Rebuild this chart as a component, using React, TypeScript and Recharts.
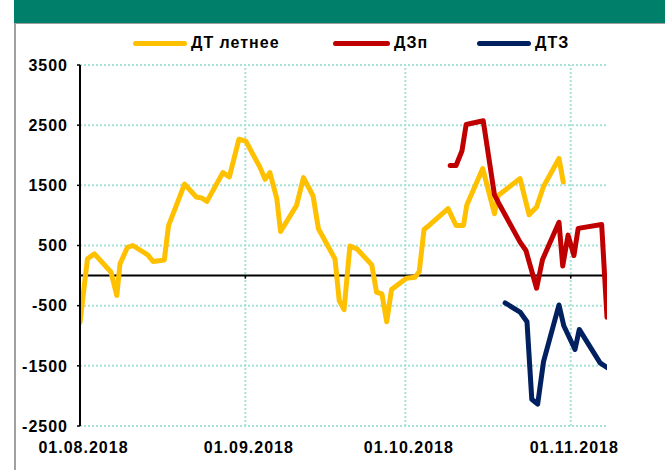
import React from 'react';
import { LineChart, Line, XAxis, YAxis, CartesianGrid, ReferenceLine, Legend } from 'recharts';

// X axis: days since 01.08.2018
const xTickDays = [0, 31, 61, 92];
const xTickLabels = ['01.08.2018', '01.09.2018', '01.10.2018', '01.11.2018'];
const xDomainMax = 98.8;
const yTicks = [-2500, -1500, -500, 500, 1500, 2500, 3500];

const seriesNames = ['ДТ летнее', 'ДЗп', 'ДТЗ'];
const seriesColors = ['#FFC000', '#C00000', '#002060'];

const summerDays = [0, 1.4, 2.7, 5.8, 6.9, 7.5, 8.9, 9.9, 12.7, 13.7, 15.8, 16.6, 19.6, 21.8, 22.8, 23.8, 26.8, 28.0, 29.8, 31.1, 33.7, 34.7, 35.6, 36.9, 37.6, 40.6, 41.9, 43.7, 44.7, 47.8, 48.6, 49.5, 50.6, 51.9, 54.7, 55.6, 56.6, 57.5, 58.4, 61.2, 62.8, 63.6, 64.5, 65.6, 69.0, 70.5, 71.9, 72.5, 75.5, 77.7, 78.4, 82.5, 84.2, 85.6, 86.9, 89.8, 90.6];
const summerValues = [-780, 280, 360, 60, -330, 195, 470, 500, 345, 235, 260, 830, 1520, 1307, 1290, 1233, 1712, 1640, 2267, 2233, 1807, 1600, 1712, 1278, 733, 1167, 1628, 1323, 778, 278, -417, -567, 490, 445, 178, -277, -305, -767, -233, -43, -27, 67, 767, 845, 1112, 833, 833, 1167, 1778, 1028, 1330, 1612, 1010, 1140, 1480, 1945, 1556];

const dzpDays = [69.4, 70.5, 71.6, 72.4, 75.6, 77.7, 78.4, 82.5, 83.6, 85.6, 86.7, 89.8, 90.5, 91.5, 92.6, 93.4, 97.8, 98.8];
const dzpValues = [1830, 1830, 2070, 2512, 2573, 1340, 1220, 556, 417, -210, 265, 885, 160, 672, 333, 785, 848, -693];

const dtzDays = [79.7, 82.5, 83.8, 84.7, 85.8, 86.9, 89.8, 90.7, 92.8, 93.6, 97.5, 98.8];
const dtzValues = [-455, -606, -767, -2055, -2138, -1430, -488, -833, -1228, -895, -1450, -1528];

const toPoints = (days: number[], values: number[]) => days.map((d, i) => ({ d, v: values[i] }));
const seriesData = [toPoints(summerDays, summerValues), toPoints(dzpDays, dzpValues), toPoints(dtzDays, dtzValues)];

const FONT = '"Liberation Sans", Arial, Helvetica, sans-serif';
const tickStyle = { fill: '#000', fontSize: 16, fontWeight: 'bold' as const, fontFamily: FONT, letterSpacing: 1 };
const GRID = '#a6e3d6';

const legendLineLeft = [133, 333, 477];
const legendLineWidth = [54, 57, 54];

function LegendContent() {
  return (
    <div style={{ position: 'relative', width: 665, height: 60 }}>
      {seriesNames.map((name, i) => (
        <React.Fragment key={name}>
          <div
            style={{
              position: 'absolute',
              left: legendLineLeft[i],
              top: 41,
              width: legendLineWidth[i],
              height: 5,
              borderRadius: 3,
              background: seriesColors[i],
            }}
          />
          <div
            style={{
              position: 'absolute',
              left: legendLineLeft[i] + legendLineWidth[i] + 4,
              top: 34,
              fontFamily: FONT,
              fontWeight: 'bold',
              fontSize: 16,
              letterSpacing: 1,
              lineHeight: '18px',
              color: '#000',
              whiteSpace: 'nowrap',
            }}
          >
            {name}
          </div>
        </React.Fragment>
      ))}
    </div>
  );
}

export default function App() {
  return (
    <div style={{ position: 'absolute', left: 0, top: 0, width: 665, height: 470, background: '#fff', fontFamily: FONT }}>
      <div style={{ position: 'absolute', left: 14, top: 0, width: 651, height: 23, background: '#00806a' }} />
      <div style={{ position: 'absolute', left: 14, top: 23, width: 651, height: 1, background: '#a0a0a0' }} />
      <div style={{ position: 'absolute', left: 14, top: 23, width: 2, height: 447, background: '#a0a0a0' }} />
      <div style={{ position: 'absolute', left: 0, top: 0 }}>
        <LineChart width={665} height={470} margin={{ top: 65, right: 58, left: 0, bottom: 14 }}>
          <CartesianGrid stroke={GRID} strokeWidth={2} strokeDasharray="2 2" vertical={false} />
          {xTickDays.slice(1).map((d) => (
            <ReferenceLine key={'g' + d} x={d} stroke={GRID} strokeWidth={2} strokeDasharray="2 2" />
          ))}
          <XAxis
            type="number"
            dataKey="d"
            domain={[0, xDomainMax]}
            allowDataOverflow
            ticks={xTickDays}
            tickFormatter={(d: number) => xTickLabels[xTickDays.indexOf(d)] ?? ''}
            axisLine={false}
            tickLine={false}
            tickSize={0}
            tickMargin={16}
            height={30}
            tick={{ ...tickStyle, dx: 3.5 }}
            interval={0}
          />
          <YAxis
            type="number"
            dataKey="v"
            domain={[-2500, 3500]}
            ticks={yTicks}
            interval={0}
            width={80}
            axisLine={{ stroke: '#000', strokeWidth: 2 }}
            tickLine={{ stroke: '#000', strokeWidth: 1.5 }}
            tickSize={3}
            tickMargin={9}
            tick={tickStyle}
          />
          <ReferenceLine y={0} stroke="#000" strokeWidth={2} />
          {xTickDays.slice(1).map((d) => (
            <ReferenceLine
              key={d}
              segment={[{ x: d, y: 0 }, { x: d, y: -50 }]}
              stroke="#000"
              strokeWidth={1.5}
            />
          ))}
          <Legend
            layout="horizontal"
            verticalAlign="middle"
            align="center"
            content={() => <LegendContent />}
            wrapperStyle={{ position: 'absolute', left: 0, top: 0, width: 665, height: 60 }}
          />
          {seriesData.map((data, i) => (
            <Line
              key={seriesNames[i]}
              data={data}
              dataKey="v"
              name={seriesNames[i]}
              stroke={seriesColors[i]}
              strokeWidth={5}
              strokeLinejoin="round"
              strokeLinecap="round"
              dot={false}
              activeDot={false}
              isAnimationActive={false}
            />
          ))}
        </LineChart>
      </div>
    </div>
  );
}
